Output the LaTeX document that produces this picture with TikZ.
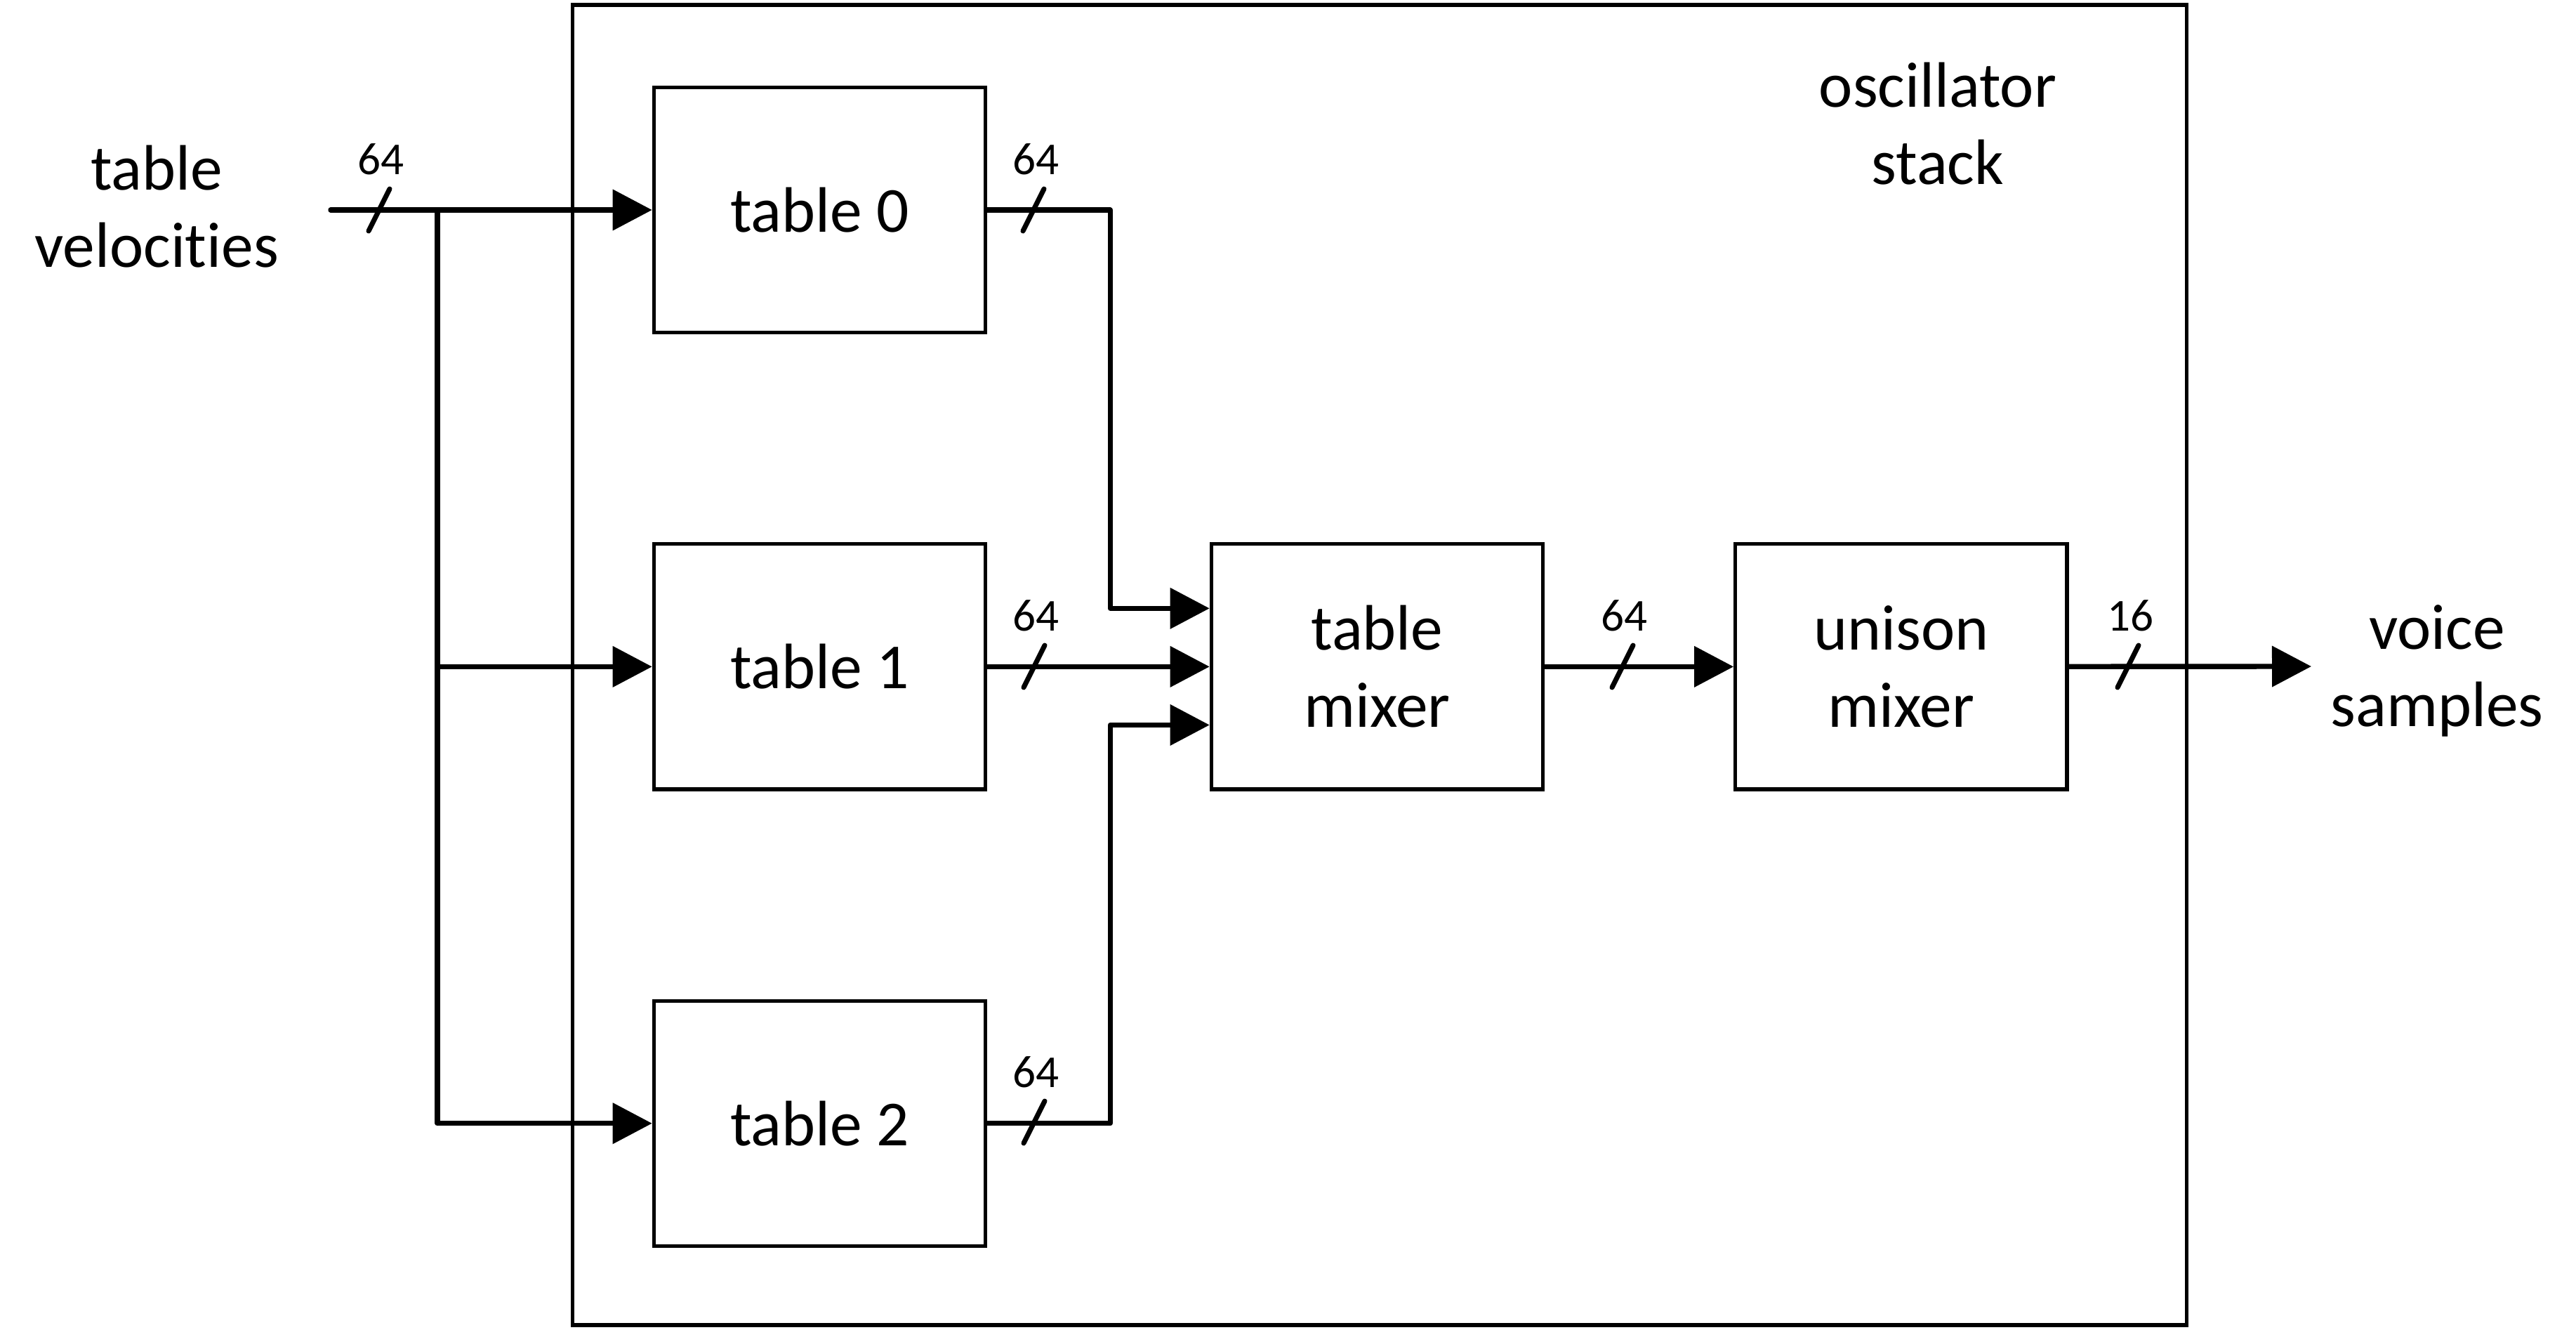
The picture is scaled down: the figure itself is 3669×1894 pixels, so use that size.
\documentclass[tikz,border=0pt]{standalone}
\usepackage{fontspec}
\setmainfont{Carlito}[Ligatures=NoCommon]
\usepackage{tikz}
\usetikzlibrary{positioning, arrows, arrows.meta, shapes}
\tikzstyle{block} = [rectangle, minimum width=4.72cm, minimum height=3.49cm, text centered, align=center, draw=black, line width=1.5pt, font=\fontsize{26}{31.3}\selectfont]
\tikzstyle{stackbox} = [rectangle, minimum width=22.97cm, minimum height=18.79cm, draw=black, line width=1.5pt]
\tikzstyle{caption} = [align=center, font=\fontsize{26}{31.3}\selectfont]
\tikzstyle{buswidth} = [font=\fontsize{18.5}{22}\selectfont]
\tikzstyle{arrow} = [line width=2.1pt, line cap=round, line join=round, -{Triangle[length=5.6mm, width=5.7mm]}]
\tikzstyle{slash} = [line width=2pt, line cap=round]

\begin{document}
\begin{tikzpicture}[x=0.01cm, y=-0.01cm]
            \useasboundingbox (0,0) rectangle (3669,1894);
            \node (osc) [stackbox] at (1965,947) {};
            \node (osclabel) [caption] at (2760,176) {oscillator\\stack};

            \node (table0) [block] at (1167.5,299) {table 0};
            \node (table1) [block, node distance=6.5cm, below of=table0] {table 1};
            \node (table2) [block, node distance=6.5cm, below of=table1] {table 2};
            \node (mixer) [block, node distance=7.935cm, right of=table1] {table\\mixer};
            \node (unison) [block, node distance=7.46cm, right of=mixer] {unison\\mixer};

            \node (velocities) [caption] at (223,294) {table\\velocities};
            \node (samples) [caption] at (3471,955) {voice\\samples};

            \coordinate (in) at (471,299);
            \coordinate (split) at (623,299);
            \coordinate (out) at (3292,949);
            \coordinate (mix_in0) at ([yshift=8.3mm]mixer.west);
            \coordinate (mix_in2) at ([yshift=-8.3mm]mixer.west);

            \draw [arrow] (in) -- (table0);
            \draw [arrow] (split) |- (table1);
            \draw [arrow] (split) |- (table2);
            \draw [arrow] (table0.east) -- ++(175,0) |- (mix_in0);
            \draw [arrow] (table1) -- (mixer);
            \draw [arrow] (table2.east) -- ++(175,0) |- (mix_in2);
            \draw [arrow] (mixer) -- (unison);
            \draw [arrow] (unison) -- (out);

            \draw [slash] (525,329) -- (555,269);
            \draw [slash] (1457,329) -- (1487,269);
            \draw [slash] (1458,979) -- (1488,919);
            \draw [slash] (1458,1628) -- (1488,1568);
            \draw [slash] (2296,979) -- (2326,919);
            \draw [slash] (3016,979) -- (3046,919);

            \node (w_in) [buswidth] at (542,227) {64};
            \node (w_t0) [buswidth] at (1475,227) {64};
            \node (w_t1) [buswidth] at (1475,877) {64};
            \node (w_t2) [buswidth] at (1475,1527) {64};
            \node (w_mix) [buswidth] at (2313,877) {64};
            \node (w_uni) [buswidth] at (3034,877) {16};

            \end{tikzpicture}
\end{document}
